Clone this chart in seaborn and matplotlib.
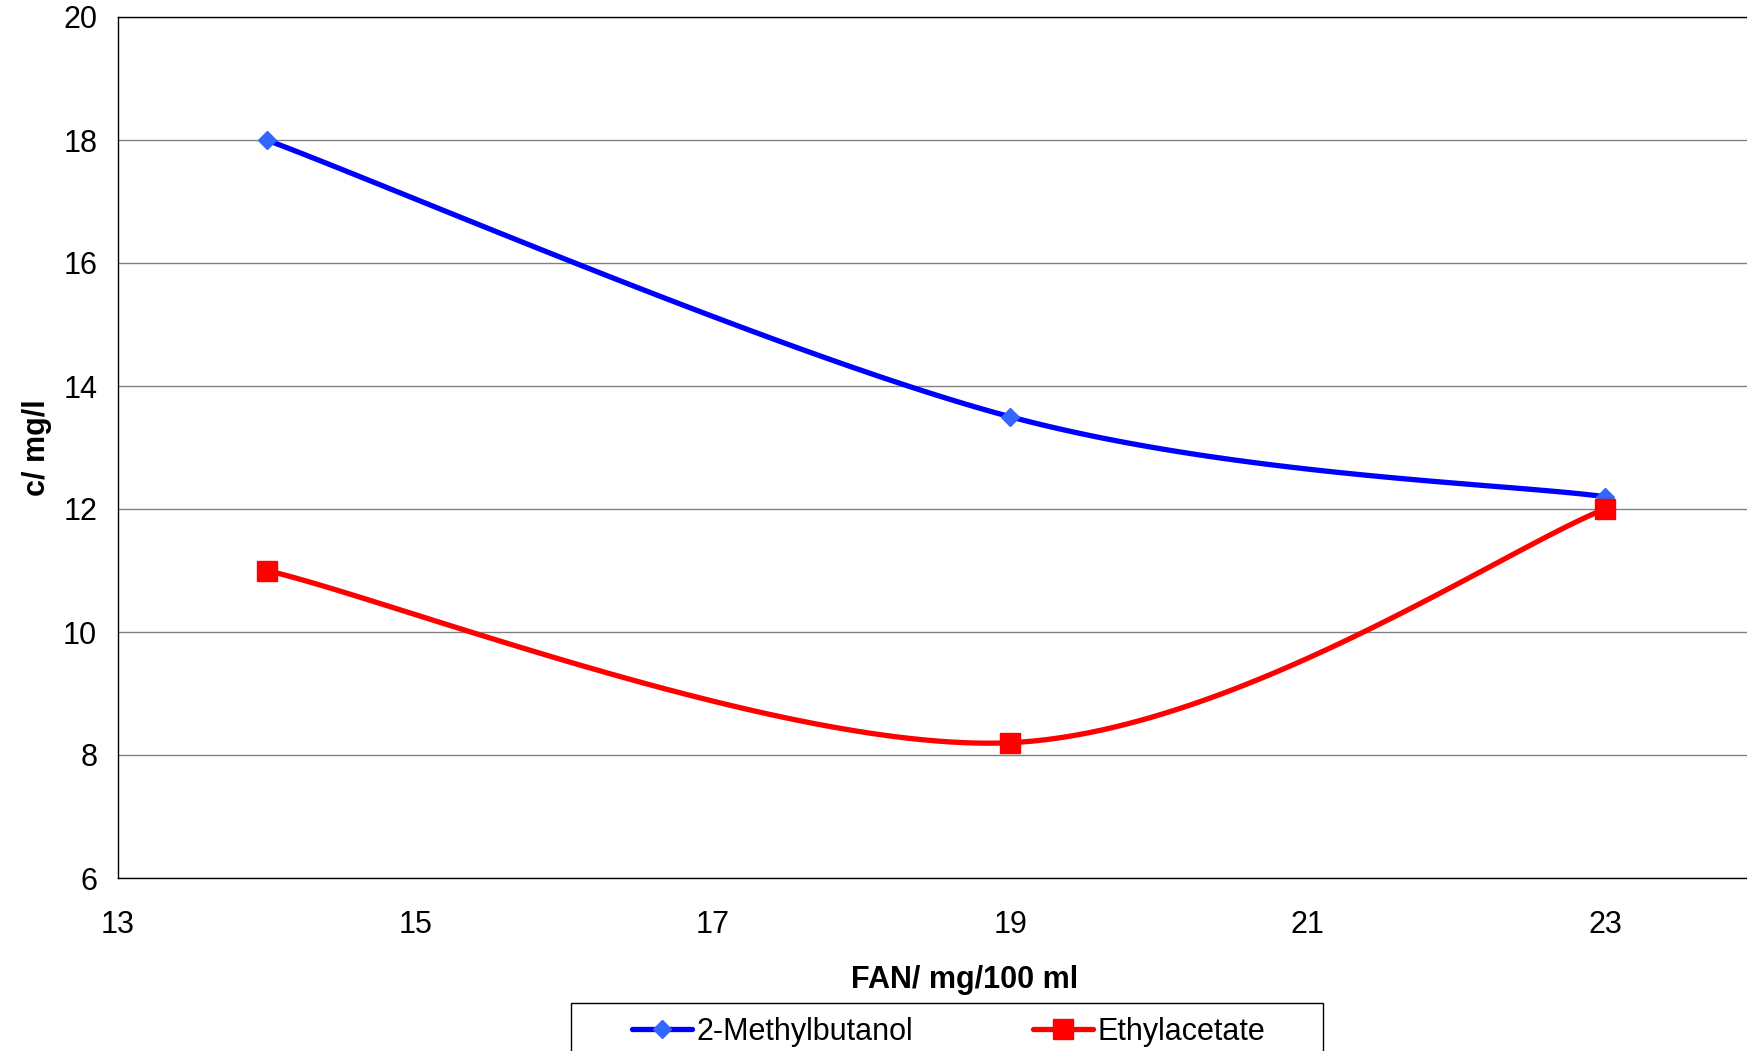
import numpy as np
import pandas as pd
import matplotlib
matplotlib.use("Agg")
import matplotlib.pyplot as plt
import seaborn as sns
from matplotlib.lines import Line2D
from matplotlib.patches import Rectangle

fan = [14, 19, 23]
methylbutanol = [18.0, 13.5, 12.2]
ethylacetate = [11.0, 8.2, 12.0]
series_names = ["2-Methylbutanol", "Ethylacetate"]
x_ticks = [13, 15, 17, 19, 21, 23]
y_ticks = [6, 8, 10, 12, 14, 16, 18, 20]

sns.set_theme(style="white")
plt.rcParams['font.family'] = ['Liberation Sans', 'DejaVu Sans']
plt.rcParams['text.color'] = 'black'
plt.rcParams['axes.labelcolor'] = 'black'


def excel_smooth(xs, ys, n=60):
    xs = np.asarray(xs, float); ys = np.asarray(ys, float)
    pts = np.column_stack([xs, ys])
    out = []
    for i in range(len(pts) - 1):
        p0 = pts[i - 1] if i > 0 else pts[i]
        p1 = pts[i]; p2 = pts[i + 1]
        p3 = pts[i + 2] if i + 2 < len(pts) else pts[i + 1]
        c1 = p1 + (p2 - p0) / 6.0
        c2 = p2 - (p3 - p1) / 6.0
        t = np.linspace(0, 1, n)[:, None]
        seg = ((1 - t) ** 3) * p1 + 3 * ((1 - t) ** 2) * t * c1 + 3 * (1 - t) * t ** 2 * c2 + t ** 3 * p2
        out.append(seg if i == 0 else seg[1:])
    s = np.vstack(out)
    return s[:, 0], s[:, 1]


df = pd.DataFrame({"FAN": fan * 2,
                   "c": methylbutanol + ethylacetate,
                   "series": [series_names[0]] * 3 + [series_names[1]] * 3})

W, H = 1747, 1051
FS = 22
LW = 3.8
fig = plt.figure(figsize=(W / 100, H / 100), dpi=100)
ax_w = 11 * 148.7
ax = fig.add_axes([118 / W, 1 - 878 / H, ax_w / W, (878 - 17) / H])

styles = {series_names[0]: dict(color="#0000FF", mcolor="#3366FF", marker="D", ms=9),
          series_names[1]: dict(color="#FF0000", mcolor="#FF0000", marker="s", ms=14)}

for name in series_names:
    sub = df[df.series == name]
    sx, sy = excel_smooth(sub.FAN.values, sub.c.values)
    st = styles[name]
    sns.lineplot(x=sx, y=sy, ax=ax, color=st["color"], lw=LW, sort=False, estimator=None, zorder=3)
    ax.plot(sub.FAN, sub.c, linestyle="none", marker=st["marker"], ms=st["ms"],
            mfc=st["mcolor"], mec=st["mcolor"], zorder=4)

ax.set_xlim(13, 24)
ax.set_ylim(6, 20)
ax.set_xticks(x_ticks)
ax.set_yticks(y_ticks)
ax.yaxis.grid(True, color="#808080", lw=1.0)
ax.xaxis.grid(False)
for s in ["left", "bottom", "top"]:
    ax.spines[s].set_color("black"); ax.spines[s].set_linewidth(1.0)
ax.spines["right"].set_visible(False)
ax.tick_params(axis="both", which="major", direction="out", length=7, width=1, color="black",
               labelsize=FS, labelcolor="black")
ax.tick_params(axis="y", pad=8)
ax.tick_params(axis="x", pad=16)
ax.set_xlabel("FAN/ mg/100 ml", fontsize=FS, fontweight="bold", labelpad=18)
ax.xaxis.label.set_x((965 - 118) / ax_w)
ax.set_ylabel("c/ mg/l", fontsize=FS, fontweight="bold", labelpad=8)

handles = [Line2D([], [], color=styles[n]["color"], lw=LW, marker=styles[n]["marker"],
                  ms=styles[n]["ms"], mfc=styles[n]["mcolor"], mec=styles[n]["mcolor"]) for n in series_names]
leg = fig.legend(handles, series_names, loc="center left",
                 bbox_to_anchor=(632 / W, 1 - 1032 / H), ncol=2, fontsize=FS, frameon=False,
                 borderpad=0, borderaxespad=0, handlelength=1.95, handletextpad=0.15,
                 columnspacing=3.95)
fig.patches.append(Rectangle((571 / W, -0.05), (1323 - 571) / W, 0.05 + 1 - 1003 / H,
                             transform=fig.transFigure, fill=False, edgecolor="black", lw=1.0))

fig.savefig("out.png", dpi=100)
